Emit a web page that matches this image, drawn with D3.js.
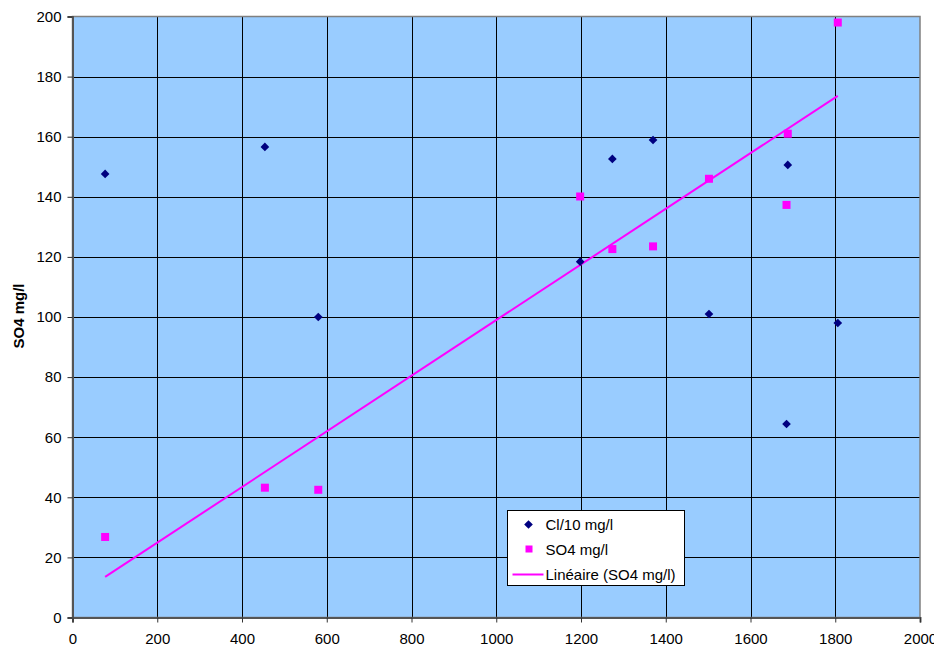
<!doctype html>
<html>
<head>
  <meta charset="UTF-8">
  <script src="https://d3js.org/d3.v7.min.js"></script>
  <style>
    body { margin: 0; background: #fff; }
    svg { font-family: Arial, "Liberation Sans", sans-serif; }
  </style>
</head>
<body>
<svg width="934" height="647"></svg>
<script>
// data
var xValues = [77, 454, 580, 1198, 1274, 1370, 1502, 1688, 1685, 1806];
var clValues = [147.6, 156.6, 100, 118.4, 152.6, 158.9, 101, 150.6, 64.4, 98];
var so4Values = [26.8, 43.2, 42.5, 140.1, 122.6, 123.5, 146, 161, 137.3, 198];
var xTicks = [0, 200, 400, 600, 800, 1000, 1200, 1400, 1600, 1800, 2000];
var yTicks = [0, 20, 40, 60, 80, 100, 120, 140, 160, 180, 200];
var legendLabels = ["Cl/10 mg/l", "SO4 mg/l", "Linéaire (SO4 mg/l)"];

var svg = d3.select("svg");
var margin = {top: 16.5, right: 14, bottom: 29.5, left: 72.5};
var width = 934 - margin.left - margin.right;
var height = 647 - margin.top - margin.bottom;

var x = d3.scaleLinear().domain([0, 2000]).range([0, width]);
var y = d3.scaleLinear().domain([0, 200]).range([height, 0]);

var g = svg.append("g")
    .attr("transform", "translate(" + margin.left + "," + margin.top + ")");

// plot background
g.append("rect")
    .attr("width", width).attr("height", height)
    .attr("fill", "#99ccff");

// grid
g.selectAll(".hgrid").data(yTicks.slice(1, -1)).enter().append("line")
    .attr("x1", 0).attr("x2", width)
    .attr("y1", d => Math.round(y(d) + margin.top) - margin.top + 0.5)
    .attr("y2", d => Math.round(y(d) + margin.top) - margin.top + 0.5)
    .attr("stroke", "#000").attr("stroke-width", 1);
g.selectAll(".vgrid").data(xTicks.slice(1, -1)).enter().append("line")
    .attr("y1", 0).attr("y2", height)
    .attr("x1", d => Math.round(x(d) + margin.left) - margin.left + 0.5)
    .attr("x2", d => Math.round(x(d) + margin.left) - margin.left + 0.5)
    .attr("stroke", "#000").attr("stroke-width", 1);

// border
g.append("rect")
    .attr("width", width).attr("height", height)
    .attr("fill", "none").attr("stroke", "#808080").attr("stroke-width", 1.5);

// axes
var yAxis = g.append("g")
    .call(d3.axisLeft(y).tickValues(yTicks).tickFormat(d3.format("d")).tickSize(5).tickPadding(6));
var xAxis = g.append("g")
    .attr("transform", "translate(0," + height + ")")
    .call(d3.axisBottom(x).tickValues(xTicks).tickFormat(d3.format("d")).tickSize(5).tickPadding(11));
[yAxis, xAxis].forEach(function(a) {
  a.attr("font-size", 15).attr("font-family", "Arial, 'Liberation Sans', sans-serif");
  a.select(".domain").attr("stroke", "#555").attr("stroke-width", 2);
  a.selectAll(".tick line").attr("stroke", "#333");
  a.selectAll("text").attr("fill", "#000");
});

// y label
svg.append("text")
    .attr("transform", "translate(24,316) rotate(-90)")
    .attr("text-anchor", "middle")
    .attr("font-size", "15px").attr("font-weight", "bold")
    .text("SO4 mg/l");

// linear trend (least squares on SO4)
var mx = d3.mean(xValues), my = d3.mean(so4Values);
var sxy = d3.sum(xValues, (d, i) => (d - mx) * (so4Values[i] - my));
var sxx = d3.sum(xValues, d => (d - mx) * (d - mx));
var slope = sxy / sxx, icpt = my - slope * mx;
var xExt = d3.extent(xValues);
g.append("line")
    .attr("x1", x(xExt[0])).attr("y1", y(icpt + slope * xExt[0]))
    .attr("x2", x(xExt[1])).attr("y2", y(icpt + slope * xExt[1]))
    .attr("stroke", "#ff00ff").attr("stroke-width", 2);

var diamond = d3.symbol().type(d3.symbolDiamond2).size(48);

// Cl/10 points
g.selectAll(".cl").data(clValues).enter().append("path")
    .attr("d", diamond)
    .attr("transform", (d, i) => "translate(" + x(xValues[i]) + "," + y(d) + ")")
    .attr("fill", "#000080");

// SO4 points
g.selectAll(".so4").data(so4Values).enter().append("rect")
    .attr("x", (d, i) => x(xValues[i]) - 4)
    .attr("y", d => y(d) - 4)
    .attr("width", 8).attr("height", 8)
    .attr("fill", "#ff00ff");

// legend
var lg = svg.append("g").attr("transform", "translate(507.5,510.5)");
lg.append("rect").attr("width", 177).attr("height", 75)
    .attr("fill", "#fff").attr("stroke", "#000").attr("stroke-width", 1);
lg.append("path").attr("d", diamond)
    .attr("transform", "translate(21,14)").attr("fill", "#000080");
lg.append("rect").attr("x", 18).attr("y", 35).attr("width", 7).attr("height", 7)
    .attr("fill", "#ff00ff");
lg.append("line").attr("x1", 5).attr("x2", 36).attr("y1", 64).attr("y2", 64)
    .attr("stroke", "#ff00ff").attr("stroke-width", 2);
lg.selectAll(".lt").data(legendLabels).enter().append("text")
    .attr("x", 38).attr("y", (d, i) => 19.5 + i * 25)
    .attr("font-size", "15px").attr("fill", "#000")
    .text(d => d);
</script>
</body>
</html>
